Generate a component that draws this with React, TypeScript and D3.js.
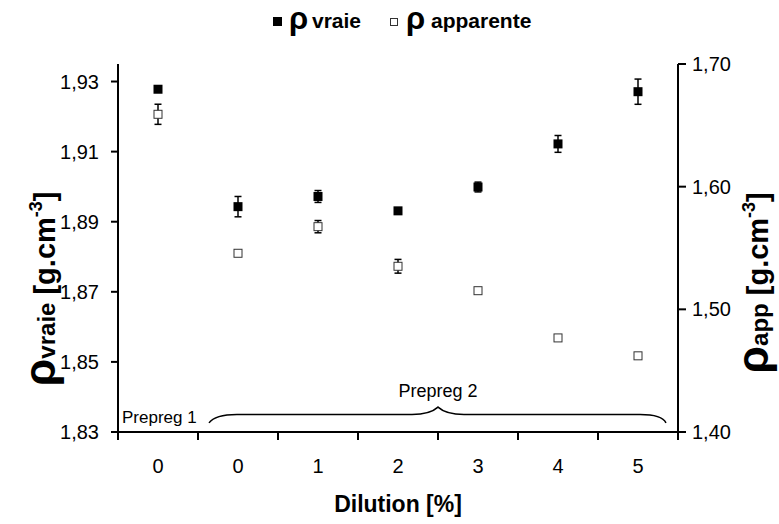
import * as d3 from "d3";

// Categories on the x axis: first is Prepreg 1, the rest Prepreg 2 by dilution
const categories = ["0", "0", "1", "2", "3", "4", "5"];

// true density (left axis), g.cm-3
const rhoVraie = [1.9278, 1.8943, 1.8972, 1.8931, 1.8999, 1.9122, 1.9271];
const rhoVraieErr = [0, 0.0029, 0.0017, 0, 0.0014, 0.0024, 0.0036];

// apparent density (right axis), g.cm-3
const rhoApp = [1.659, 1.5457, 1.5674, 1.5351, 1.5152, 1.4767, 1.4621];
const rhoAppErr = [0.0082, 0, 0.005, 0.0056, 0, 0, 0];

const leftTicks = [1.83, 1.85, 1.87, 1.89, 1.91, 1.93];
const rightTicks = [1.4, 1.5, 1.6, 1.7];

const font = "'Liberation Sans', Arial, sans-serif";

function AxisTitle({ x, y, sub }: { x: number; y: number; sub: string }) {
  return (
    <text transform={`translate(${x}, ${y}) rotate(-90)`} textAnchor="middle" fontWeight="bold" fontSize={29}>
      <tspan fontSize={45}>ρ</tspan>
      <tspan fontSize={24}>{sub}</tspan>
      <tspan> [g.cm</tspan>
      <tspan fontSize={18} dy={-13}>-3</tspan>
      <tspan dy={13}>]</tspan>
    </text>
  );
}

export default function App() {
  const width = 779;
  const height = 524;
  const plot = { left: 118, right: 678, top: 64, bottom: 432 };

  const x = d3
    .scaleBand<number>()
    .domain(categories.map((_, i) => i))
    .range([plot.left, plot.right])
    .padding(0);
  const cx = (i: number) => (x(i) ?? 0) + x.bandwidth() / 2;

  const yL = d3.scaleLinear().domain([1.83, 1.935]).range([plot.bottom, plot.top]);
  const yR = d3.scaleLinear().domain([1.4, 1.7]).range([plot.bottom, plot.top]);

  const fmt = (v: number) => d3.format(".2f")(v).replace(".", ",");
  const boundaries = categories.map((_, i) => x(i) ?? 0).concat([plot.right]);

  // curly brace under the Prepreg 2 points
  const bx0 = (x(1) ?? 0) + 11;
  const bx1 = plot.right - 12;
  const bmid = x(4) ?? 0;
  const bLine = yL(1.835);
  const bEnd = yL(1.8326);
  const bPeak = yL(1.8371);
  const brace = d3.path();
  brace.moveTo(bx0, bEnd);
  brace.quadraticCurveTo(bx0 + 6, bLine, bx0 + 28, bLine);
  brace.lineTo(bmid - 26, bLine);
  brace.quadraticCurveTo(bmid - 8, bLine, bmid, bPeak);
  brace.quadraticCurveTo(bmid + 8, bLine, bmid + 26, bLine);
  brace.lineTo(bx1 - 26, bLine);
  brace.quadraticCurveTo(bx1 - 4, bLine, bx1, bEnd);

  const cap = 3.5;

  return (
    <svg
      width={width}
      height={height}
      viewBox={`0 0 ${width} ${height}`}
      style={{ position: "absolute", left: 0, top: 0, background: "#fff" }}
      fontFamily={font}
    >
      <rect width={width} height={height} fill="#fff" />

      {/* legend */}
      <g fill="#000">
        <rect x={273} y={17} width={9} height={9} />
        <text x={289} y={29} fontSize={31} fontWeight="bold">ρ</text>
        <text x={312} y={28} fontSize={21} fontWeight="bold">vraie</text>
        <rect x={390.5} y={18.5} width={7} height={7} fill="#fff" stroke="#333" strokeWidth={1} />
        <text x={406} y={29} fontSize={31} fontWeight="bold">ρ</text>
        <text x={431} y={28} fontSize={21} fontWeight="bold">apparente</text>
      </g>

      {/* axes */}
      <g stroke="#000" strokeWidth={2} fill="none">
        <line x1={plot.left} x2={plot.left} y1={plot.top} y2={plot.bottom + 8} />
        <line x1={plot.right} x2={plot.right} y1={plot.top} y2={plot.bottom + 8} />
        <line x1={plot.left - 7} x2={plot.right + 8} y1={plot.bottom} y2={plot.bottom} />
        {leftTicks.map((t) => (
          <line key={`lt-${t}`} x1={plot.left - 7} x2={plot.left} y1={yL(t)} y2={yL(t)} />
        ))}
        {rightTicks.map((t) => (
          <line key={`rt-${t}`} x1={plot.right} x2={plot.right + 8} y1={yR(t)} y2={yR(t)} />
        ))}
        {boundaries.map((b, i) => (
          <line key={`bt-${i}`} x1={b} x2={b} y1={plot.bottom} y2={plot.bottom + 8} />
        ))}
      </g>

      {/* tick labels */}
      <g fontSize={20} fill="#000">
        {leftTicks.map((t) => (
          <text key={`ll-${t}`} x={plot.left - 19} y={yL(t)} textAnchor="end" dominantBaseline="central">
            {fmt(t)}
          </text>
        ))}
        {rightTicks.map((t) => (
          <text key={`rl-${t}`} x={plot.right + 14} y={yR(t)} dominantBaseline="central">
            {fmt(t)}
          </text>
        ))}
        {categories.map((c, i) => (
          <text key={`cl-${i}`} x={cx(i)} y={473} textAnchor="middle">
            {c}
          </text>
        ))}
      </g>

      {/* axis titles */}
      <text x={(plot.left + plot.right) / 2} y={512} textAnchor="middle" fontSize={23} fontWeight="bold">
        Dilution [%]
      </text>
      <AxisTitle x={55} y={289} sub="vraie" />
      <AxisTitle x={768} y={283} sub="app" />

      {/* annotations */}
      <path d={brace.toString()} fill="none" stroke="#000" strokeWidth={1.5} />
      <text x={plot.left + 4} y={423} fontSize={17}>Prepreg 1</text>
      <text x={bmid} y={397} fontSize={18} textAnchor="middle">Prepreg 2</text>

      {/* error bars */}
      <g stroke="#000" strokeWidth={1.5}>
        {rhoVraie.map((v, i) =>
          rhoVraieErr[i] > 0 ? (
            <g key={`ev-${i}`}>
              <line x1={cx(i)} x2={cx(i)} y1={yL(v - rhoVraieErr[i])} y2={yL(v + rhoVraieErr[i])} />
              <line x1={cx(i) - cap} x2={cx(i) + cap} y1={yL(v - rhoVraieErr[i])} y2={yL(v - rhoVraieErr[i])} />
              <line x1={cx(i) - cap} x2={cx(i) + cap} y1={yL(v + rhoVraieErr[i])} y2={yL(v + rhoVraieErr[i])} />
            </g>
          ) : null
        )}
        {rhoApp.map((v, i) =>
          rhoAppErr[i] > 0 ? (
            <g key={`ea-${i}`}>
              <line x1={cx(i)} x2={cx(i)} y1={yR(v - rhoAppErr[i])} y2={yR(v + rhoAppErr[i])} />
              <line x1={cx(i) - cap} x2={cx(i) + cap} y1={yR(v - rhoAppErr[i])} y2={yR(v - rhoAppErr[i])} />
              <line x1={cx(i) - cap} x2={cx(i) + cap} y1={yR(v + rhoAppErr[i])} y2={yR(v + rhoAppErr[i])} />
            </g>
          ) : null
        )}
      </g>

      {/* markers */}
      {rhoApp.map((v, i) => (
        <rect key={`ma-${i}`} x={cx(i) - 4} y={yR(v) - 4} width={8} height={8} fill="#fff" stroke="#333" strokeWidth={1} />
      ))}
      {rhoVraie.map((v, i) => (
        <rect key={`mv-${i}`} x={cx(i) - 4.5} y={yL(v) - 4.5} width={9} height={9} fill="#000" />
      ))}
    </svg>
  );
}
